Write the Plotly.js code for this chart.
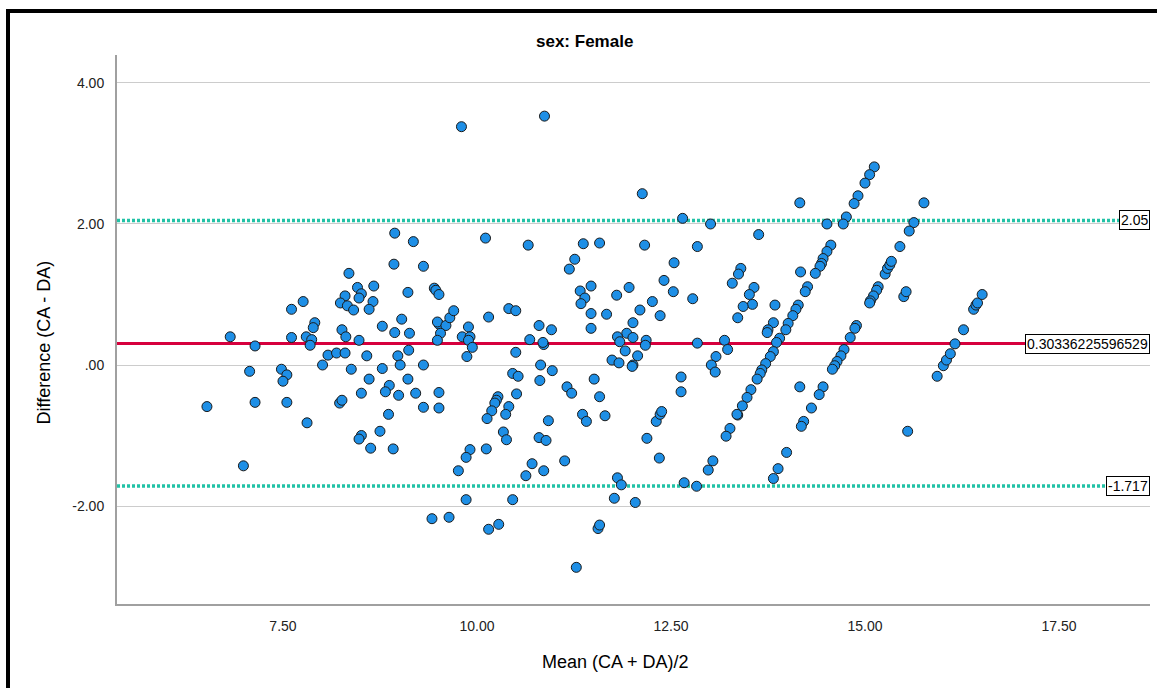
<!DOCTYPE html>
<html>
<head>
<meta charset="utf-8">
<script src="https://cdn.plot.ly/plotly-3.0.1.min.js"></script>
<style>
  html, body { margin:0; padding:0; background:#fff; }
  #chart { position:absolute; left:0; top:0; width:1157px; height:688px; }
  #frame { position:absolute; left:6px; top:9px; width:1151px; height:679px;
           border-top:4px solid #000; border-left:4px solid #000; box-sizing:border-box;
           pointer-events:none; }
</style>
</head>
<body>
<div id="chart"></div>
<div id="frame"></div>
<script>
// ---- Data: [mean (CA+DA)/2, difference (CA-DA)] ----
const clusterLow = [
  [8.94,1.87],[8.93,1.43],[8.35,1.30],[8.46,1.10],[8.51,1.01],[8.48,0.95],[8.30,0.98],[8.24,0.88],[8.33,0.84],[8.41,0.78],
  [8.67,1.12],[8.66,0.90],[8.61,0.79],[7.76,0.90],[7.61,0.79],[7.91,0.60],[7.89,0.53],[6.82,0.40],[7.14,0.27],[7.61,0.39],
  [7.80,0.40],[7.87,0.36],[7.85,0.28],[8.26,0.50],[8.31,0.40],[8.48,0.35],[8.78,0.55],[8.94,0.46],[9.03,0.65],[9.11,1.03],
  [8.08,0.14],[8.19,0.17],[8.30,0.17],[8.58,0.13],[8.98,0.13],[9.01,0.00],[8.01,0.00],[7.07,-0.09],[7.48,-0.06],[7.55,-0.14],
  [7.50,-0.23],[8.38,-0.06],[8.78,-0.05],[8.61,-0.20],[9.11,-0.20],[8.87,-0.29],[8.82,-0.38],[8.99,-0.43],[8.51,-0.40],[7.14,-0.53],
  [7.55,-0.53],[6.52,-0.59],[8.23,-0.54],[8.26,-0.50],[7.81,-0.82],[8.86,-0.70],[8.75,-0.94],[8.51,-1.00],[8.48,-1.05],[8.63,-1.18],
  [8.92,-1.19],[6.99,-1.43]
];
const clusterMid = [
  [9.80,3.38],[10.87,3.53],[12.13,2.43],[12.65,2.08],[9.18,1.75],[10.11,1.80],[10.66,1.70],[11.37,1.72],[11.58,1.73],[12.16,1.70],
  [12.84,1.68],[9.31,1.40],[11.19,1.36],[11.26,1.50],[12.54,1.45],[9.45,1.09],[9.47,1.06],[9.51,1.00],[11.33,1.05],[11.39,0.95],
  [11.34,0.87],[11.47,1.12],[11.80,0.99],[11.96,1.10],[12.41,1.20],[12.53,1.04],[12.78,0.94],[12.26,0.90],[12.10,0.78],[12.36,0.70],
  [12.01,0.60],[11.93,0.45],[12.01,0.39],[11.81,0.40],[11.84,0.33],[11.91,0.20],[12.07,0.13],[12.01,0.00],[12.00,-0.02],[11.74,0.07],
  [11.83,0.03],[12.18,0.35],[12.17,0.28],[12.84,0.31],[11.47,0.73],[11.47,0.52],[11.67,0.72],[9.13,0.45],[9.12,0.21],[9.31,0.00],
  [9.21,-0.40],[9.51,-0.39],[9.31,-0.60],[9.51,-0.61],[9.51,0.58],[9.49,0.61],[9.60,0.56],[9.65,0.67],[9.70,0.77],[9.53,0.45],
  [9.49,0.35],[9.81,0.40],[9.89,0.54],[9.91,0.40],[9.89,0.35],[9.94,0.25],[9.87,0.12],[10.15,0.68],[10.41,0.80],[10.50,0.77],
  [10.68,0.36],[10.80,0.56],[10.96,0.50],[10.86,0.29],[10.85,0.32],[10.50,0.18],[10.82,0.00],[10.97,-0.08],[10.46,-0.12],[10.53,-0.16],
  [10.81,-0.22],[10.51,-0.41],[10.27,-0.45],[10.25,-0.50],[10.23,-0.54],[10.19,-0.65],[10.13,-0.76],[10.41,-0.59],[10.37,-0.70],[10.34,-0.95],
  [10.38,-1.06],[10.12,-1.19],[9.91,-1.20],[9.86,-1.31],[9.76,-1.50],[9.86,-1.91],[9.42,-2.18],[9.64,-2.16],[10.15,-2.33],[10.28,-2.26],
  [10.46,-1.91],[10.63,-1.57],[10.71,-1.40],[10.86,-1.50],[10.80,-1.03],[10.89,-1.07],[10.92,-0.79],[11.13,-1.36],[11.28,-2.87],[11.56,-2.32],
  [11.58,-2.27],[11.16,-0.31],[11.22,-0.40],[11.51,-0.20],[11.58,-0.45],[11.36,-0.70],[11.41,-0.80],[11.65,-0.72],[11.81,-1.60],[11.86,-1.70],
  [11.77,-1.89],[12.04,-1.95],[12.19,-1.04],[12.35,-1.32],[12.31,-0.80],[12.36,-0.70],[12.38,-0.66],[12.63,-0.17],[12.63,-0.38],[12.67,-1.67],
  [12.83,-1.72]
];
const clusterHigh = [
  [15.12,2.81],[15.06,2.70],[15.00,2.58],[14.91,2.40],[14.86,2.29],[14.76,2.10],[14.72,2.00],[14.51,2.00],[14.16,2.30],[15.76,2.30],
  [15.63,2.02],[15.57,1.90],[15.45,1.68],[13.01,2.00],[13.63,1.85],[14.56,1.70],[14.51,1.61],[14.46,1.51],[14.44,1.44],[14.42,1.40],
  [14.36,1.30],[14.17,1.32],[14.26,1.11],[14.23,1.04],[13.40,1.37],[13.37,1.29],[13.29,1.16],[13.57,1.10],[13.51,1.00],[13.55,0.86],
  [13.43,0.83],[13.36,0.67],[13.84,0.85],[13.82,0.60],[13.75,0.50],[13.74,0.46],[14.14,0.85],[14.11,0.79],[14.07,0.70],[14.01,0.59],
  [13.98,0.50],[13.90,0.38],[13.86,0.32],[13.82,0.19],[13.78,0.12],[13.72,0.02],[13.67,-0.07],[13.65,-0.12],[13.61,-0.20],[13.53,-0.35],
  [13.48,-0.46],[13.42,-0.58],[13.36,-0.71],[13.35,-0.70],[13.26,-0.90],[13.21,-1.01],[13.04,-1.36],[12.98,-1.49],[13.19,0.35],[13.23,0.22],
  [13.08,0.12],[13.02,0.00],[13.07,-0.10],[14.16,-0.31],[14.46,-0.31],[14.41,-0.42],[14.31,-0.61],[14.21,-0.80],[14.18,-0.87],[13.99,-1.24],
  [13.88,-1.47],[13.82,-1.61],[14.89,0.56],[14.87,0.52],[14.81,0.39],[14.73,0.22],[14.69,0.13],[14.64,0.05],[14.61,-0.01],[14.58,-0.06],
  [15.17,1.11],[15.15,1.06],[15.11,0.98],[15.07,0.91],[15.06,0.88],[15.26,1.29],[15.29,1.37],[15.32,1.42],[15.34,1.47],[15.50,0.97],
  [15.53,1.04],[15.55,-0.94],[15.93,-0.16],[16.01,-0.01],[16.05,0.07],[16.10,0.16],[16.16,0.30],[16.27,0.50],[16.40,0.79],[16.43,0.85],
  [16.45,0.88],[16.51,1.00]
];

// Reference lines
const meanDiff = 0.30336225596529;
const upperLimit = 2.05;
const lowerLimit = -1.717;
const meanLabel = "0.30336225596529";
const upperLabel = "2.05";
const lowerLabel = "-1.717";

// Tick labels
const xTickVals = [7.5, 10, 12.5, 15, 17.5];
const xTickText = ["7.50", "10.00", "12.50", "15.00", "17.50"];
const yTickVals = [-2, 0, 2, 4];
const yTickText = ["-2.00", ".00", "2.00", "4.00"];

const chartTitle = "sex: Female";
const xTitle = "Mean (CA + DA)/2";
const yTitle = "Difference (CA - DA)";

// ---- Build ----
const allPts = clusterLow.concat(clusterMid, clusterHigh);
const xs = allPts.map(p => p[0]);
const ys = allPts.map(p => p[1]);

const FONT = "Liberation Sans, Arial, Helvetica, sans-serif";

const trace = {
  type: "scatter", mode: "markers", x: xs, y: ys,
  marker: { size: 10, color: "#1e8fe6", line: { color: "#1a1a1a", width: 1 } },
  hoverinfo: "x+y"
};

function hline(v, color, dash, w) {
  return { type: "line", xref: "paper", x0: 0, x1: 1, yref: "y", y0: v, y1: v,
           layer: "between", line: { color: color, width: w, dash: dash } };
}
function lineLabel(v, txt) {
  return { xref: "paper", x: 1, xanchor: "right", yref: "y", y: v, yanchor: "middle",
           text: txt, showarrow: false, bgcolor: "#ffffff", bordercolor: "#000000",
           borderwidth: 1, borderpad: 1, font: { family: FONT, size: 14, color: "#000" } };
}

const layout = {
  width: 1157, height: 688,
  margin: { l: 117, r: 7, t: 55, b: 84, pad: 0 },
  paper_bgcolor: "#ffffff", plot_bgcolor: "#ffffff",
  showlegend: false,
  font: { family: FONT, size: 14, color: "#222" },
  xaxis: {
    range: [5.361, 18.673], showgrid: false, zeroline: false,
    showline: true, linecolor: "#a0a0a0", linewidth: 2,
    tickmode: "array", tickvals: xTickVals, ticktext: xTickText,
    ticks: "", ticklabelstandoff: 8, tickfont: { family: FONT, size: 14, color: "#222" }
  },
  yaxis: {
    range: [-3.39, 4.397], showgrid: true, gridcolor: "#cccccc", gridwidth: 1, zeroline: false,
    showline: true, linecolor: "#a0a0a0", linewidth: 2,
    tickmode: "array", tickvals: yTickVals, ticktext: yTickText,
    ticks: "", ticklabelstandoff: 8, tickfont: { family: FONT, size: 14, color: "#222" }
  },
  shapes: [
    hline(upperLimit, "#22c2a6", "3px,2px", 3.5),
    hline(lowerLimit, "#22c2a6", "3px,2px", 3.5),
    hline(meanDiff, "#d6003d", "solid", 3)
  ],
  annotations: [
    lineLabel(upperLimit, upperLabel),
    lineLabel(meanDiff, meanLabel),
    lineLabel(lowerLimit, lowerLabel),
    { xref: "paper", x: 0.453, xanchor: "center", yref: "paper", y: 1.0255, yanchor: "middle",
      text: "<b>" + chartTitle + "</b>", showarrow: false, font: { family: FONT, size: 17, color: "#000" } },
    { xref: "paper", x: 0.483, xanchor: "center", yref: "paper", y: -0.1056, yanchor: "middle",
      text: xTitle, showarrow: false, font: { family: FONT, size: 18, color: "#000" } },
    { xref: "paper", x: -0.0707, xanchor: "center", yref: "paper", y: 0.4763, yanchor: "middle",
      text: yTitle, textangle: -90, showarrow: false, font: { family: FONT, size: 18, color: "#000" } }
  ]
};

Plotly.newPlot("chart", [trace], layout, { displayModeBar: false, staticPlot: true });
</script>
</body>
</html>
